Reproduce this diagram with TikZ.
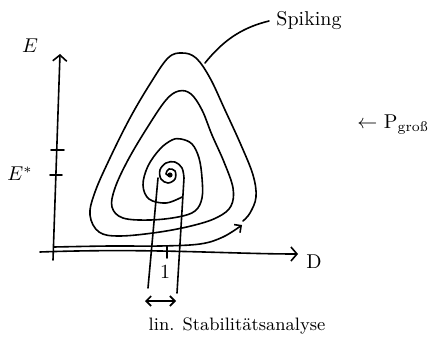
\documentclass[tikz,border=0pt]{standalone}
\usepackage{tikz}
\usetikzlibrary{calc}
\usetikzlibrary{positioning}
\usetikzlibrary{arrows.meta}

\tikzset{
  barb/.style={-{Straight Barb[length=3pt,width=7pt]}},
  smallbarb/.style={-{Straight Barb[length=2.5pt,width=5pt]}},
}

\begin{document}
\begin{tikzpicture}[x=0.5pt, y=-0.5pt, line width=0.8pt, line cap=round, line join=round]
            \useasboundingbox (0,0) rectangle (444,353);

            % axes
            \coordinate (O) at (53,260);
            \coordinate (Etop) at (60,54);
            \coordinate (Dleft) at (40,252);
            \coordinate (Dright) at (298,254);
            \draw[barb] (O) -- (Etop);
            \draw[barb] (Dleft) .. controls (150,248) and (230,254) .. (Dright);

            \draw (30,46) node (E) {$E$};
            \draw (20,174) node (Estar) {$E^*$};
            \draw (314,262) node (D) {D};
            \draw (165,272) node (one) {1};

            \draw (51,150) -- (64,150);
            \draw (50,175) -- (62,175);
            \draw (167,246) -- (167,258);

            % spiral towards spiking
            \draw plot[smooth, tension=0.6] coordinates {
                (182,197) (166,203) (149,199) (143,185) (148,166) (160,149) (172,140) (181,139)
                (192,144) (199,158) (202,178) (202,198) (195,211) (178,217) (150,220) (123,218)
                (112,207) (115,188) (128,160) (147,128) (166,100) (179,91) (191,94)
                (202,110) (212,135) (224,162) (233,188) (231,206) (218,217) (195,225)
                (160,232) (120,236) (99,232) (90,215) (95,192) (110,158) (130,118)
                (150,84) (168,58) (182,53) (196,58) (210,78) (225,110) (241,145) (253,175)
                (256,197) (250,213) (243,221)};

            % trajectory from the origin
            \draw[smallbarb] plot[smooth, tension=0.6] coordinates {
                (54,247) (110,246) (160,246) (200,244) (223,237) (242,225)};

            % fixed point and strip
            \fill (170,175) circle[radius=1.3pt];
            \draw (177,293) -- plot[smooth, tension=0.6] coordinates {
                (184,178) (182,168) (175,162) (166,163) (160,170) (161,179) (168,183)
                (175,179) (175,171) (169,169) (166,174) (170,176)};
            \draw (148,288) -- (158,178);

            \coordinate (linL) at (145,301);
            \coordinate (linR) at (176,301);
            \draw[{Straight Barb[length=2.5pt,width=5pt]}-{Straight Barb[length=2.5pt,width=5pt]}] (linL) -- (linR);
            \draw (237,326) node (lin) {\small lin. Stabilitätsanalyse};

            % labels
            \draw (309,21) node (Spiking) {Spiking};
            \coordinate (spk) at (205,63);
            \draw (spk) .. controls (222,42) and (240,28) .. (Spiking.west);

            \draw (393,125) node (Pgross) {$\leftarrow$ P\textsubscript{groß}};
        \end{tikzpicture}
\end{document}
